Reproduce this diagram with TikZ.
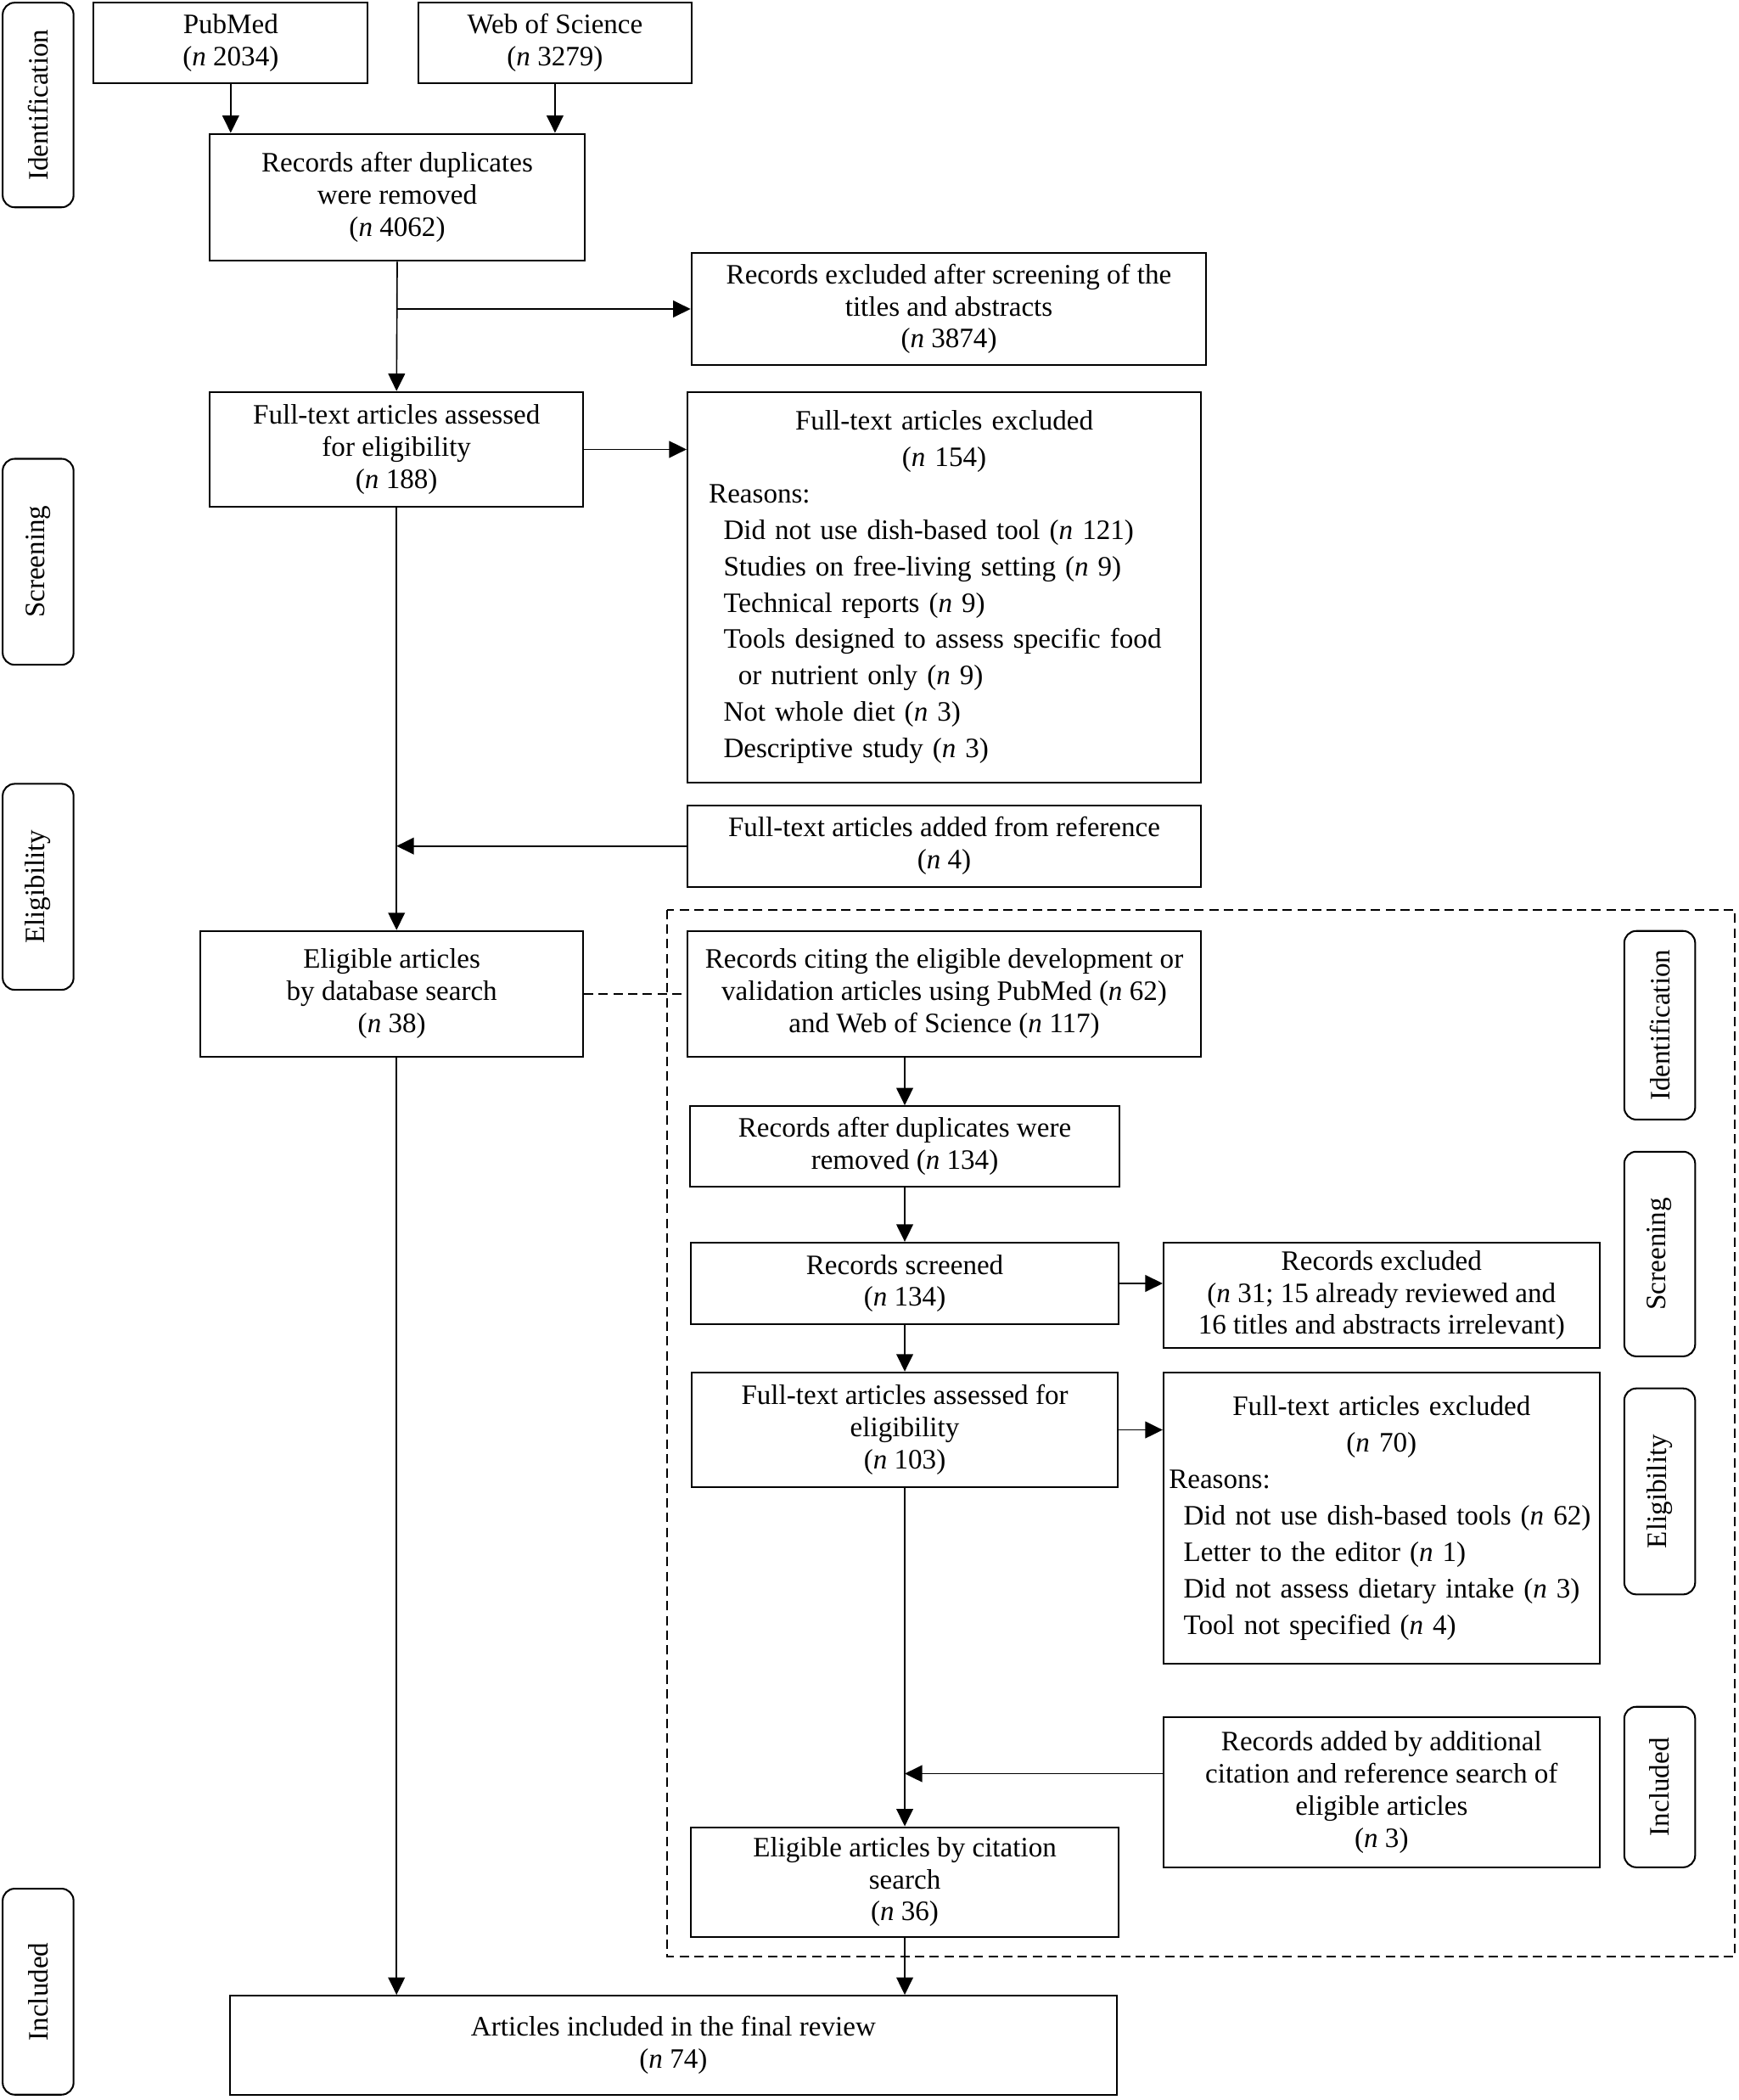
\documentclass[tikz,border=0pt]{standalone}
\usepackage{fontspec}
\setmainfont{Liberation Serif}
\usepgflibrary{arrows.meta}

\begin{document}
\begin{tikzpicture}[x=1pt,y=-1pt,
	box/.style={draw, line width=1.3pt, align=center, inner sep=2pt},
	reasonbox/.style={draw, line width=1.3pt, inner ysep=2pt, font=\fontsize{21}{27.2}\selectfont},
	stage/.style={draw, line width=1.3pt, rounded corners=9pt, rotate=90, minimum height=53, inner sep=2pt},
	arr/.style={line width=1.05pt, -{Triangle[length=13pt,width=12.5pt]}},
	font=\fontsize{21}{24}\selectfont]
	\useasboundingbox (0,0) rectangle (1300,1570);

	% stage labels, left
	\node[stage, minimum width=153] (idl) at (28.5,78.5) {Identification};
	\node[stage, minimum width=154] (scl) at (28.5,420) {Screening};
	\node[stage, minimum width=154] (ell) at (28.5,663) {Eligibility};
	\node[stage, minimum width=154] (inl) at (28.5,1489) {Included};

	% database search
	\node[box, minimum width=205, minimum height=60] (pubmed) at (172.5,32) {PubMed\\(\textit{n} 2034)};
	\node[box, minimum width=204, minimum height=60] (wos) at (415,32) {Web of Science\\(\textit{n} 3279)};
	\node[box, minimum width=280, minimum height=95] (dupl) at (297,147.5) {Records after duplicates\\were removed\\(\textit{n} 4062)};
	\node[box, minimum width=385, minimum height=84] (exclta) at (709.5,231) {Records excluded after screening of the\\titles and abstracts\\(\textit{n} 3874)};
	\node[box, minimum width=279, minimum height=86] (ftass) at (296.5,336) {Full-text articles assessed\\for eligibility\\(\textit{n} 188)};
	\node[reasonbox, minimum width=384, minimum height=292, inner xsep=16pt, text width=352] (ftexc) at (706,439)
		{\centering Full-text articles excluded\\(\textit{n} 154)\par
		\raggedright Reasons:\\
		\hspace*{11pt}Did not use dish-based tool (\textit{n} 121)\\
		\hspace*{11pt}Studies on free-living setting (\textit{n} 9)\\
		\hspace*{11pt}Technical reports (\textit{n} 9)\\
		\hspace*{11pt}Tools designed to assess specific food\\
		\hspace*{22pt}or nutrient only (\textit{n} 9)\\
		\hspace*{11pt}Not whole diet (\textit{n} 3)\\
		\hspace*{11pt}Descriptive study (\textit{n} 3)};
	\node[box, minimum width=384, minimum height=61] (ftadd) at (706,632.5) {Full-text articles added from reference\\(\textit{n} 4)};
	\node[box, minimum width=286, minimum height=94] (elig) at (293,743) {Eligible articles\\by database search\\(\textit{n} 38)};

	% citation search
	\draw[line width=1.3pt, dash pattern=on 7pt off 4pt] (499,680) rectangle (1297,1463);
	\node[stage, minimum width=141] (idr) at (1241,766.5) {Identification};
	\node[stage, minimum width=153] (scr) at (1241,937.5) {Screening};
	\node[stage, minimum width=154] (elr) at (1241,1115) {Eligibility};
	\node[stage, minimum width=120] (inr) at (1241,1336) {Included};

	\node[box, minimum width=384, minimum height=94] (citing) at (706,743) {Records citing the eligible development or\\validation articles using PubMed (\textit{n} 62)\\and Web of Science (\textit{n} 117)};
	\node[box, minimum width=321, minimum height=60] (dupl2) at (676.5,857) {Records after duplicates were\\removed (\textit{n} 134)};
	\node[box, minimum width=320, minimum height=61] (screened) at (676.5,959.5) {Records screened\\(\textit{n} 134)};
	\node[box, minimum width=326, minimum height=79] (excl2) at (1033,968.5) {Records excluded\\(\textit{n} 31; 15 already reviewed and\\16 titles and abstracts irrelevant)};
	\node[box, minimum width=319, minimum height=86] (ftass2) at (676.5,1069) {Full-text articles assessed for\\eligibility\\(\textit{n} 103)};
	\node[reasonbox, minimum width=326, minimum height=218, inner xsep=4pt, text width=318] (ftexc2) at (1033,1135)
		{\centering Full-text articles excluded\\(\textit{n} 70)\par
		\raggedright Reasons:\\
		\hspace*{11pt}Did not use dish-based tools (\textit{n} 62)\\
		\hspace*{11pt}Letter to the editor (\textit{n} 1)\\
		\hspace*{11pt}Did not assess dietary intake (\textit{n} 3)\\
		\hspace*{11pt}Tool not specified (\textit{n} 4)};
	\node[box, minimum width=326, minimum height=112] (added) at (1033,1340) {Records added by additional\\citation and reference search of\\eligible articles\\(\textit{n} 3)};
	\node[box, minimum width=320, minimum height=82] (citsearch) at (676.5,1407) {Eligible articles by citation\\search\\(\textit{n} 36)};
	\coordinate (addout) at ([yshift=14pt]added.west);

	\node[box, minimum width=663, minimum height=74] (final) at (503.5,1529) {Articles included in the final review\\(\textit{n} 74)};

	% connectors, left column
	\draw[arr] (pubmed.south) -- (pubmed.south |- dupl.north);
	\draw[arr] (wos.south) -- (wos.south |- dupl.north);
	\draw[arr] (dupl.south) -- (ftass.north);
	\draw[arr] (dupl.south |- exclta.west) -- (exclta.west);
	\draw[arr] (ftass.east) -- (ftexc.west |- ftass.east);
	\draw[arr] (ftass.south) -- (ftass.south |- elig.north);
	\draw[arr] (ftadd.west) -- (ftass.south |- ftadd.west);
	\draw[line width=1.05pt, dash pattern=on 7pt off 4pt] (elig.east) -- (citing.west);
	\draw[arr] (ftass.south |- elig.south) -- (ftass.south |- final.north);

	% connectors, right column
	\draw[arr] (dupl2.north |- citing.south) -- (dupl2.north);
	\draw[arr] (dupl2.south) -- (screened.north);
	\draw[arr] (screened.east) -- (excl2.west |- screened.east);
	\draw[arr] (screened.south) -- (ftass2.north);
	\draw[arr] (ftass2.east) -- (ftexc2.west |- ftass2.east);
	\draw[arr] (ftass2.south) -- (citsearch.north);
	\draw[arr] (addout) -- (ftass2.south |- addout);
	\draw[arr] (citsearch.south) -- (citsearch.south |- final.north);
\end{tikzpicture}
\end{document}
